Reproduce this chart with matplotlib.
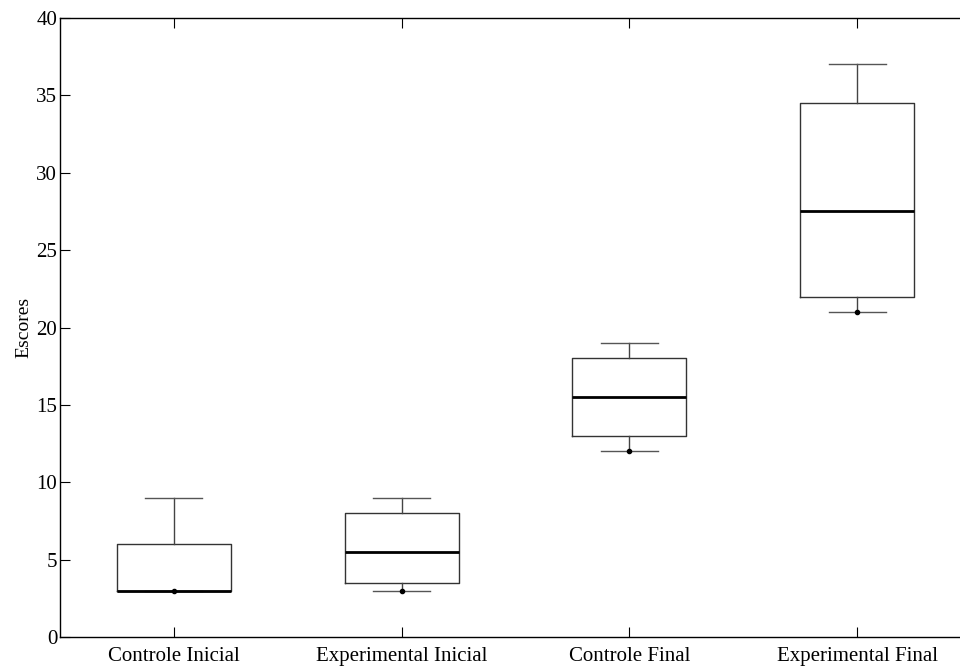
"""Box plot of escores por grupo
"""
import matplotlib.pyplot as plt

plt.rcParams['font.family'] = ['Liberation Serif', 'DejaVu Serif']

groups = ["Controle Inicial", "Experimental Inicial", "Controle Final", "Experimental Final"]
whisker_low = [3, 3, 12, 21]
q1 = [3, 3.5, 13, 22]
medians = [3, 5.5, 15.5, 27.5]
q3 = [6, 8, 18, 34.5]
whisker_high = [9, 9, 19, 37]

stats = []
for i, name in enumerate(groups):
    stats.append(dict(label=name, whislo=whisker_low[i], q1=q1[i], med=medians[i],
                      q3=q3[i], whishi=whisker_high[i], fliers=[]))

fig = plt.figure(figsize=(9.6, 6.66), dpi=100)
ax = fig.add_axes([0.0625, 0.0435, 0.949, 0.9294])

positions = list(range(1, len(groups) + 1))
ax.bxp(stats, positions=positions, widths=0.5, showfliers=False,
       boxprops=dict(color='#333333', linewidth=1.0),
       whiskerprops=dict(color='#444444', linewidth=1.0, linestyle='-'),
       capprops=dict(color='#555555', linewidth=1.0),
       medianprops=dict(color='black', linewidth=2.0),
       capwidths=0.25)
ax.plot(positions, whisker_low, 'o', color='black', markersize=3, zorder=5)

ax.set_xlim(0.5, 4.5)
ax.set_ylim(0, 40)
ax.set_yticks(range(0, 41, 5))
ax.set_xticks(positions)
ax.set_xticklabels(groups, fontsize=15)
ax.tick_params(axis='y', labelsize=15)
ax.tick_params(direction='in', length=7, width=0.8, top=True, right=False, pad=2)
ax.tick_params(axis='x', pad=7)
ax.spines['right'].set_visible(False)
for s in ['left', 'bottom', 'top']:
    ax.spines[s].set_linewidth(1.0)
ax.set_ylabel("Escores", fontsize=14, labelpad=3)

plt.savefig("out.png", dpi=100)
